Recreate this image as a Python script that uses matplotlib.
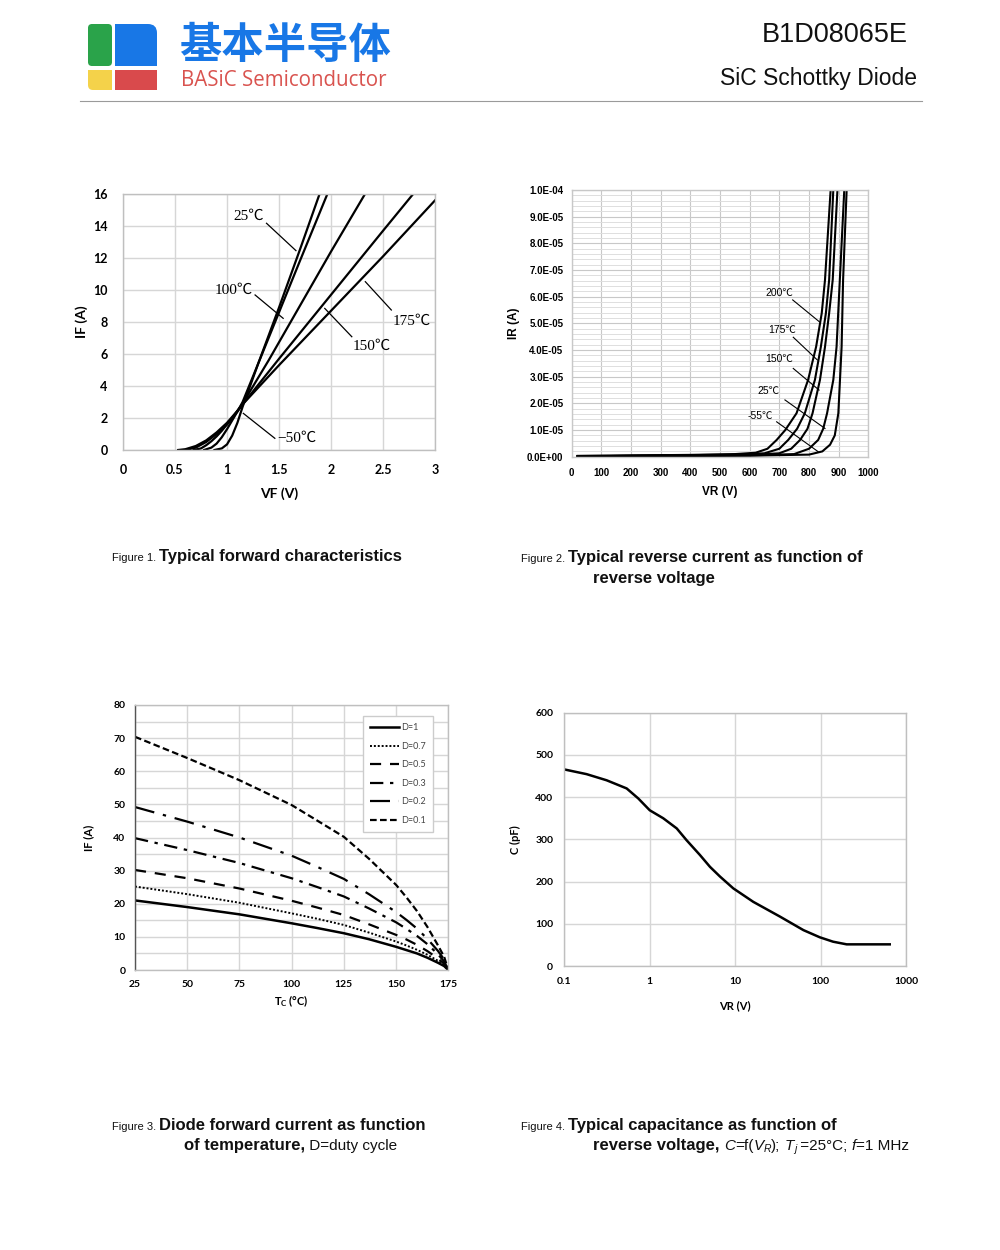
import numpy as np
import matplotlib
matplotlib.use('Agg')
import matplotlib.pyplot as plt
from matplotlib.patches import FancyBboxPatch, Rectangle
from matplotlib.ticker import MultipleLocator, FixedLocator, NullLocator

# ---------------- data ----------------
# Figure 1: forward characteristics, VF (V) -> IF (A)
vf_m50 = [0.88, 0.95, 1.00, 1.05, 1.10, 1.15, 1.20, 1.30, 1.50, 1.70, 1.89]
if_m50 = [0.0, 0.1, 0.35, 0.9, 1.7, 2.7, 3.6, 5.4, 8.9, 12.5, 16.0]
vf_25 = [0.78, 0.85, 0.90, 0.95, 1.00, 1.05, 1.10, 1.15, 1.30, 1.50, 1.70, 1.965]
if_25 = [0.0, 0.15, 0.4, 0.8, 1.3, 1.85, 2.4, 3.0, 5.4, 8.6, 11.8, 16.0]
vf_100 = [0.68, 0.75, 0.80, 0.85, 0.90, 0.95, 1.00, 1.05, 1.10, 1.15, 1.40, 1.70, 2.00, 2.327]
if_100 = [0.0, 0.1, 0.3, 0.55, 0.85, 1.2, 1.6, 2.0, 2.45, 2.9, 5.6, 9.0, 12.4, 16.0]
vf_150 = [0.60, 0.70, 0.80, 0.90, 1.00, 1.10, 1.15, 1.50, 2.00, 2.50, 2.79]
if_150 = [0.0, 0.15, 0.5, 1.0, 1.6, 2.4, 2.85, 5.7, 9.7, 13.7, 16.0]
vf_175 = [0.53, 0.60, 0.70, 0.80, 0.90, 1.00, 1.10, 1.15, 1.50, 2.00, 2.50, 3.00]
if_175 = [0.0, 0.05, 0.25, 0.6, 1.1, 1.7, 2.45, 2.85, 5.3, 8.7, 12.1, 15.6]

# Figure 2: reverse current, VR (V) -> IR (A)
vr_200 = [20, 200, 400, 550, 620, 660, 691, 720, 758, 797, 824, 843, 854, 873]
ir_200 = [0.03, 0.05, 0.07, 0.1, 0.15, 0.3, 0.63, 1.0, 1.63, 2.88, 4.12, 5.38, 6.63, 10.0]
vr_175 = [20, 200, 400, 550, 650, 700, 730, 760, 786, 820, 840, 857, 868, 882]
ir_175 = [0.03, 0.04, 0.06, 0.08, 0.13, 0.3, 0.63, 1.05, 1.63, 2.88, 4.12, 5.38, 6.63, 10.0]
vr_150 = [20, 200, 400, 600, 700, 740, 770, 795, 812, 837, 854, 868, 880, 896]
ir_150 = [0.02, 0.03, 0.05, 0.07, 0.13, 0.3, 0.63, 1.05, 1.63, 2.88, 4.12, 5.38, 6.63, 10.0]
vr_25 = [20, 200, 400, 600, 750, 800, 831, 848, 861, 882, 893, 904, 919]
ir_25 = [0.02, 0.03, 0.04, 0.05, 0.1, 0.3, 0.63, 1.05, 1.63, 2.88, 4.12, 6.63, 10.0]
vr_m55 = [20, 200, 400, 600, 800, 845, 871, 887, 899, 910, 915, 927]
ir_m55 = [0.02, 0.03, 0.03, 0.04, 0.08, 0.2, 0.45, 0.8, 1.63, 4.12, 6.63, 10.0]
ir_unit = 1e-5

# Figure 3: forward current derating, Tc (C) -> IF (A)
tc = [25, 50, 75, 100, 112, 125, 137, 150, 155, 160, 165, 170, 173, 175]
if_d1 = [21.0, 19.0, 16.8, 14.1, 12.7, 11.1, 9.3, 7.0, 6.0, 5.0, 3.7, 2.2, 1.2, 0]
if_d07 = [25.2, 22.9, 20.3, 17.1, 15.5, 13.6, 11.3, 8.6, 7.4, 6.1, 4.6, 2.8, 1.5, 0]
if_d05 = [30.2, 27.7, 24.6, 20.9, 18.9, 16.6, 13.8, 10.6, 9.2, 7.6, 5.7, 3.5, 1.9, 0]
if_d03 = [39.8, 36.2, 32.3, 27.7, 25.1, 22.2, 18.6, 14.4, 12.4, 10.3, 7.8, 4.8, 2.6, 0]
if_d02 = [49.2, 44.8, 40.0, 34.5, 31.2, 27.5, 22.9, 17.5, 15.1, 12.5, 9.4, 5.8, 3.2, 0]
if_d01 = [70.4, 64.0, 57.3, 49.8, 45.2, 40.2, 33.6, 25.7, 21.9, 17.8, 13.0, 7.5, 4.0, 0]
duty_labels = ['D=1', 'D=0.7', 'D=0.5', 'D=0.3', 'D=0.2', 'D=0.1']

# Figure 4: capacitance, VR (V) -> C (pF)
vr_cap = [0.1, 0.182, 0.313, 0.537, 0.734, 1.0, 1.44, 2.07, 2.70, 3.87, 5.07, 6.64, 9.5,
          16.3, 33.5, 63, 98, 140, 202, 645]
c_cap = [465.7, 454.6, 440, 420.7, 397, 369, 350, 326, 298, 263, 235, 212, 184,
         152, 117, 85, 68, 57.6, 51.3, 51.3]

GRID = '#d6d6d6'
SPINE = '#bfbfbf'

fig = plt.figure(figsize=(10, 12.5), dpi=100)

# overlay axes in pixel units for header, logo and captions
hdr = fig.add_axes([0, 0, 1, 1])
hdr.set_xlim(0, 1000)
hdr.set_ylim(1250, 0)
hdr.axis('off')

# logo blocks
hdr.add_patch(FancyBboxPatch((88, 24), 24, 42, boxstyle='round,pad=0,rounding_size=4',
                             fc='#2aa34a', ec='none'))
hdr.add_patch(FancyBboxPatch((115, 24), 42, 42, boxstyle='round,pad=0,rounding_size=9',
                             fc='#1877e6', ec='none'))
hdr.add_patch(Rectangle((115, 24), 12, 42, fc='#1877e6', ec='none'))
hdr.add_patch(Rectangle((115, 54), 42, 12, fc='#1877e6', ec='none'))
hdr.add_patch(FancyBboxPatch((88, 70), 24, 20, boxstyle='round,pad=0,rounding_size=5',
                             fc='#f4d24a', ec='none'))
hdr.add_patch(Rectangle((100, 70), 12, 20, fc='#f4d24a', ec='none'))
hdr.add_patch(Rectangle((88, 70), 24, 10, fc='#f4d24a', ec='none'))
hdr.add_patch(Rectangle((115, 70), 42, 20, fc='#d94a4c', ec='none'))

hdr.text(179, 46, '基本半导体', fontsize=30.5, fontweight='bold', color='#1877e6',
         family=['Noto Sans CJK SC'], va='center', ha='left')
hdr.text(181, 81, 'BASiC Semiconductor', fontsize=14.8, color='#d9534f',
         family=['Open Sans'], va='center', ha='left')
hdr.text(908, 35, 'B1D08065E', fontsize=19.5, family=['Liberation Sans'],
         va='center', ha='right', color='#111111')
hdr.text(917, 78, 'SiC Schottky Diode', fontsize=16.5, family=['Liberation Sans'],
         va='center', ha='right', color='#111111')
hdr.plot([80, 922], [101, 101], color='#9a9a9a', lw=0.8)


def runs(x, y, parts):
    r = fig.canvas.get_renderer()
    for s, kw in parts:
        kw = dict(kw)
        dy = kw.pop('dy', 0)
        t = hdr.text(x, y + dy, s, va='baseline', ha='left', family=['Liberation Sans'],
                     color='#111111', **kw)
        x += t.get_window_extent(renderer=r).width


SMALL = dict(fontsize=8)
BOLD = dict(fontsize=12, fontweight='bold')
REG = dict(fontsize=11)
IT = dict(fontsize=11, style='italic')
SUB = dict(fontsize=7.5, style='italic', dy=2)

runs(112, 561, [('Figure 1. ', SMALL), ('Typical forward characteristics', BOLD)])
runs(521, 562, [('Figure 2. ', SMALL), ('Typical reverse current as function of', BOLD)])
runs(593, 583, [('reverse voltage', BOLD)])
runs(112, 1130, [('Figure 3. ', SMALL), ('Diode forward current as function', BOLD)])
runs(184, 1150, [('of temperature,', BOLD), (' D=duty cycle', REG)])
runs(521, 1130, [('Figure 4. ', SMALL), ('Typical capacitance as function of', BOLD)])
runs(593, 1150, [('reverse voltage,', BOLD), (' ', REG), ('C', IT), ('=f(', REG), ('V', IT),
                 ('R', SUB), (');', REG), (' ', REG), ('T', IT), ('j', SUB),
                 (' =25°C; ', REG), ('f', IT), ('=1 MHz', REG)])


def frame(ax, color=SPINE):
    for s in ax.spines.values():
        s.set_color(color)
        s.set_linewidth(1)
    ax.tick_params(length=0)
    ax.set_axisbelow(True)


# ---------------- Figure 1 ----------------
ax1 = fig.add_axes([0.123, 0.64, 0.312, 0.2048])
frame(ax1)
for v, i in [(vf_m50, if_m50), (vf_25, if_25), (vf_100, if_100), (vf_150, if_150), (vf_175, if_175)]:
    ax1.plot(v, i, color='black', lw=1.6)
ax1.set_xlim(0, 3)
ax1.set_ylim(0, 16)
ax1.set_xticks(np.arange(0, 3.01, 0.5))
ax1.set_xticklabels(['0', '0.5', '1', '1.5', '2', '2.5', '3'])
ax1.yaxis.set_major_locator(MultipleLocator(2))
ax1.grid(True, color=GRID, lw=1)
ax1.tick_params(labelsize=9)
ax1.tick_params(axis='x', pad=10)
ax1.tick_params(axis='y', pad=11)
for lab in ax1.get_xticklabels() + ax1.get_yticklabels():
    lab.set_family(['Lato'])
    lab.set_fontweight('bold')
ax1.set_xlabel('VF (V)', fontsize=10, fontweight='bold', family=['Lato'], labelpad=8)
ax1.set_ylabel('IF (A)', fontsize=10, fontweight='bold', family=['Lato'], labelpad=4)

serif = ['Liberation Serif', 'Noto Sans CJK SC']
lab1 = [('25℃', 1.21, 14.6, (1.38, 14.17), (1.663, 12.46)),
        ('100℃', 1.06, 10.0, (1.27, 9.69), (1.54, 8.23)),
        ('175℃', 2.78, 8.06, (2.58, 8.75), (2.33, 10.52)),
        ('150℃', 2.39, 6.5, (2.20, 7.08), (1.94, 8.85)),
        ('−50℃', 1.67, 0.75, (1.46, 0.73), (1.157, 2.29))]
for s, x, y, p0, p1 in lab1:
    ax1.text(x, y, s, fontsize=11, family=serif, ha='center', va='center')
    ax1.plot([p0[0], p1[0]], [p0[1], p1[1]], color='black', lw=0.9)

# ---------------- Figure 2 ----------------
ax2 = fig.add_axes([0.5717, 0.6346, 0.2966, 0.2134])
frame(ax2, '#c8c8c8')
for v, i in [(vr_200, ir_200), (vr_175, ir_175), (vr_150, ir_150), (vr_25, ir_25), (vr_m55, ir_m55)]:
    ax2.plot(v, np.array(i) * ir_unit, color='black', lw=1.5)
ax2.set_xlim(0, 1000)
ax2.set_ylim(0, 1e-4)
ax2.set_xticks(np.arange(0, 1001, 100))
ax2.set_yticks(np.arange(0, 1.01e-4, 1e-5))
ax2.set_yticklabels(['{:.1E}'.format(v) for v in np.arange(0, 1.01e-4, 1e-5)])
ax2.yaxis.set_minor_locator(MultipleLocator(2e-6))
ax2.grid(True, which='major', color='#c8c8c8', lw=0.8)
ax2.grid(True, which='minor', axis='y', color='#dedede', lw=0.7)
ax2.tick_params(which='both', length=0, labelsize=7, pad=6)
ax2.tick_params(axis='x', pad=8)
for lab in ax2.get_xticklabels() + ax2.get_yticklabels():
    lab.set_family(['Liberation Sans'])
    lab.set_fontweight('bold')
ax2.set_xlabel('VR (V)', fontsize=8.5, fontweight='bold', family=['Liberation Sans'], labelpad=6)
ax2.set_ylabel('IR (A)', fontsize=8.5, fontweight='bold', family=['Liberation Sans'], labelpad=5)

sans_c = ['Liberation Sans', 'Noto Sans CJK SC']
lab2 = [('200℃', 700, 6.13, (745, 5.88), (835, 5.06)),
        ('175℃', 708, 4.75, (747, 4.48), (828, 3.63)),
        ('150℃', 700, 3.65, (747, 3.31), (834, 2.5)),
        ('25℃', 663, 2.46, (719, 2.13), (854, 1.06)),
        ('-55℃', 635, 1.53, (691, 1.31), (831, 0.19))]
for s, x, y, p0, p1 in lab2:
    ax2.text(x, y * ir_unit, s, fontsize=7.5, family=sans_c, ha='center', va='center')
    ax2.plot([p0[0], p1[0]], [p0[1] * ir_unit, p1[1] * ir_unit], color='black', lw=0.8)

# ---------------- Figure 3 ----------------
ax3 = fig.add_axes([0.135, 0.224, 0.3133, 0.212])
frame(ax3)
ax3.spines['left'].set_color('#555555')
styles = ['-', (0, (1, 1)), (0, (5, 4)), (0, (6, 3, 1.5, 3)), (0, (9, 4, 1.5, 4)), (0, (3, 1.5))]
widths = [1.8, 1.4, 1.6, 1.6, 1.6, 1.6]
for vals, ls, lw, lab in zip([if_d1, if_d07, if_d05, if_d03, if_d02, if_d01], styles, widths, duty_labels):
    ax3.plot(tc, vals, color='black', ls=ls, lw=lw, label=lab)
ax3.set_xlim(25, 175)
ax3.set_ylim(0, 80)
ax3.set_xticks(np.arange(25, 176, 25))
ax3.set_yticks(np.arange(0, 81, 10))
ax3.yaxis.set_minor_locator(MultipleLocator(5))
ax3.grid(True, which='major', color=GRID, lw=1)
ax3.grid(True, which='minor', axis='y', color=GRID, lw=1)
ax3.tick_params(which='both', length=0, labelsize=7.5, pad=7)
for lab in ax3.get_xticklabels() + ax3.get_yticklabels():
    lab.set_family(['Lato'])
    lab.set_fontweight('bold')
ax3.set_xlabel(r'T$_\mathregular{C}$ (°C)', fontsize=8, fontweight='bold', family=['Lato'], labelpad=3)
ax3.set_ylabel('IF (A)', fontsize=8, fontweight='bold', family=['Lato'], labelpad=14)
leg = ax3.legend(loc='upper right', bbox_to_anchor=(0.965, 0.975), fontsize=6.5, handlelength=3.2,
                 labelspacing=1.05, fancybox=False, edgecolor='#cccccc', framealpha=1,
                 borderpad=0.8, handletextpad=0.2)
for t in leg.get_texts():
    t.set_color('#444444')
    t.set_family(['Lato'])

# ---------------- Figure 4 ----------------
ax4 = fig.add_axes([0.5643, 0.2272, 0.3417, 0.2026])
frame(ax4)
ax4.plot(vr_cap, c_cap, color='black', lw=1.8)
ax4.set_xscale('log')
ax4.set_xlim(0.1, 1000)
ax4.set_ylim(0, 600)
ax4.xaxis.set_major_locator(FixedLocator([0.1, 1, 10, 100, 1000]))
ax4.xaxis.set_minor_locator(NullLocator())
ax4.set_xticklabels(['0.1', '1', '10', '100', '1000'])
ax4.set_yticks(np.arange(0, 601, 100))
ax4.grid(True, color=GRID, lw=1)
ax4.tick_params(which='both', length=0, labelsize=7.5, pad=8)
for lab in ax4.get_xticklabels() + ax4.get_yticklabels():
    lab.set_family(['Lato'])
    lab.set_fontweight('bold')
ax4.set_xlabel('VR (V)', fontsize=8, fontweight='bold', family=['Lato'], labelpad=10)
ax4.set_ylabel('C (pF)', fontsize=8, fontweight='bold', family=['Lato'], labelpad=10)

fig.savefig('out.png', dpi=100, facecolor='white')
